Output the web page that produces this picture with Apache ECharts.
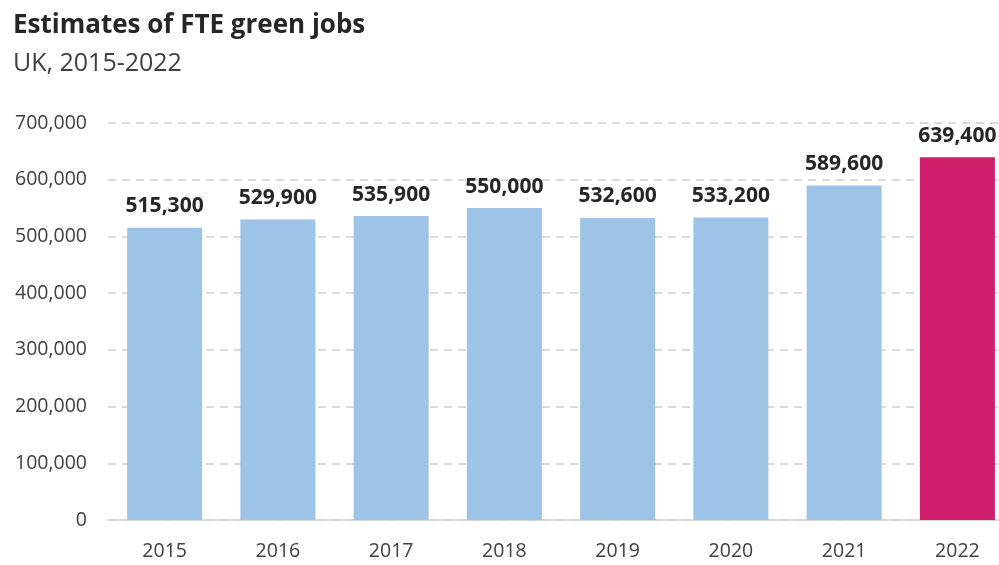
<!DOCTYPE html>
<html>
<head>
<meta charset="utf-8">
<script src="https://cdn.jsdelivr.net/npm/echarts@6/dist/echarts.min.js"></script>
<style>
  html, body { margin: 0; padding: 0; background: #fff; overflow: hidden; }
  /* the plot runs a little past the right edge of the window */
  #chart { width: 1014px; height: 565px; }
</style>
</head>
<body>
<div id="chart"></div>
<script>
// Full-time-equivalent green jobs in the UK by year
const years = ['2015', '2016', '2017', '2018', '2019', '2020', '2021', '2022'];
const fteJobs = [515300, 529900, 535900, 550000, 532600, 533200, 589600, 639400];
const yTicks = { min: 0, max: 700000, interval: 100000 };

const baseColor = '#9DC3E6';
const highlightColor = '#CE1D6B';
const fontFamily = '"Open Sans", "Noto Sans", sans-serif';

const fmt = v => v.toLocaleString('en-GB');

const chart = echarts.init(document.getElementById('chart'), null, { renderer: 'canvas' });

chart.setOption({
  animation: false,
  backgroundColor: '#ffffff',
  title: {
    text: 'Estimates of FTE green jobs',
    subtext: 'UK, 2015-2022',
    left: 8,
    top: 8,
    itemGap: 12,
    textStyle: { fontFamily, fontSize: 26, fontWeight: 'bold', color: '#262626' },
    subtextStyle: { fontFamily, fontSize: 25, color: '#404040' }
  },
  grid: { left: 108, top: 123, right: 0, bottom: 45, containLabel: false, outerBoundsMode: 'none' },
  xAxis: {
    type: 'category',
    data: years,
    axisLine: { lineStyle: { color: '#d4d4d4', width: 1.5 } },
    axisTick: { show: false },
    axisLabel: { fontFamily, fontSize: 19.5, color: '#404040', margin: 21 }
  },
  yAxis: {
    type: 'value',
    min: yTicks.min,
    max: yTicks.max,
    interval: yTicks.interval,
    axisLine: { show: false },
    axisTick: { show: false },
    splitLine: { lineStyle: { color: '#d0d0d0', type: [8, 6], width: 1.5 } },
    axisLabel: { fontFamily, fontSize: 19.5, color: '#404040', margin: 21, formatter: fmt }
  },
  series: [{
    type: 'bar',
    data: fteJobs.map((v, i) => ({
      value: v,
      itemStyle: { color: i === fteJobs.length - 1 ? highlightColor : baseColor }
    })),
    barWidth: 75,
    label: {
      show: true,
      position: 'top',
      distance: 11,
      fontFamily,
      fontSize: 21,
      fontWeight: 'bold',
      color: '#262626',
      formatter: p => fmt(p.value)
    }
  }]
});
</script>
</body>
</html>
